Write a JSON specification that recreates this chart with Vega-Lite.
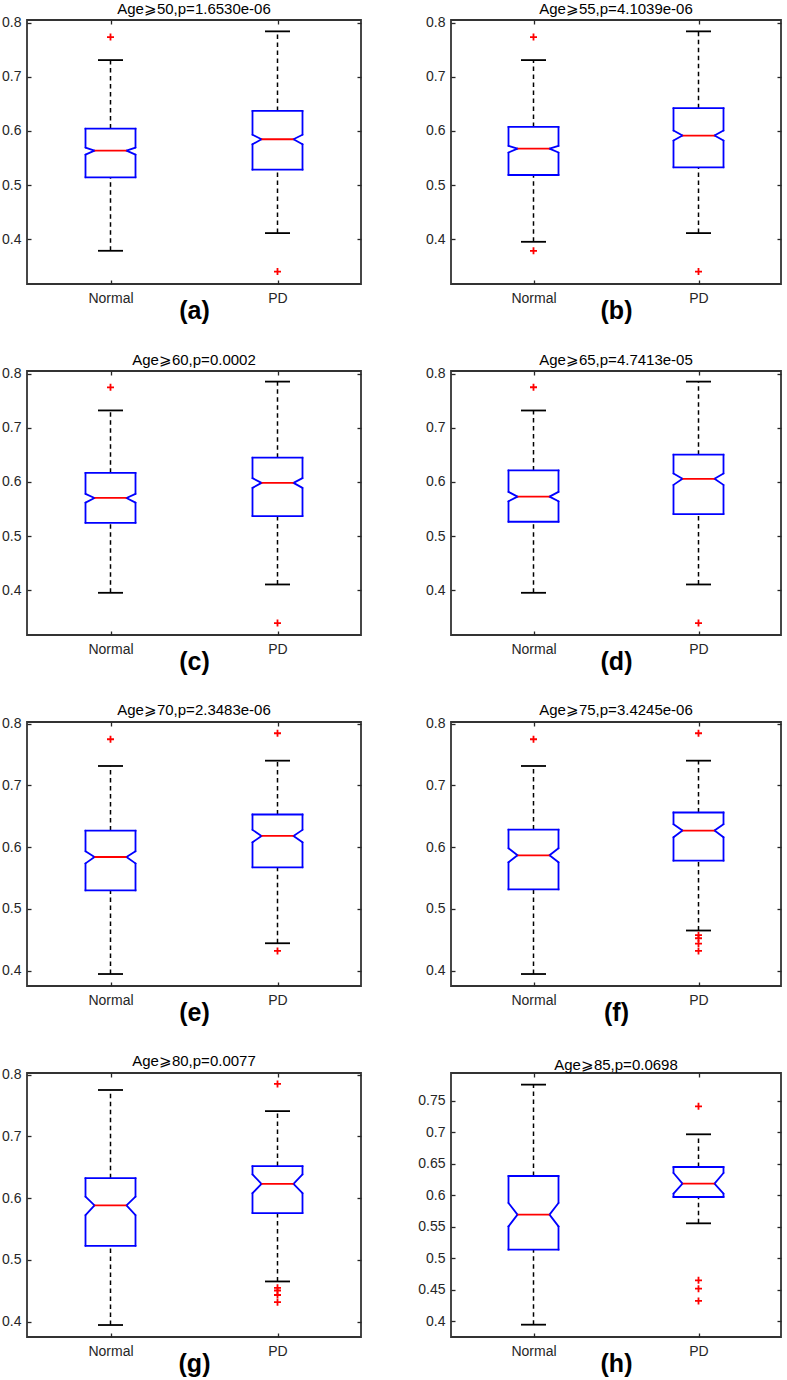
{
"$schema": "https://vega.github.io/schema/vega-lite/v6.json",
"background": "white",
"padding": 0,
"columns": 2,
"bounds": "flush",
"spacing": {"row": 87, "column": 90},
"data": {"name": "boxes"},
"datasets": {
"boxes": [
{"panel":"a","group":"Normal","wlo":0.3784,"q1":0.5142,"nlo":0.5562,"med":0.5636,"nhi":0.5691,"q3":0.6043,"whi":0.7309},
{"panel":"a","group":"PD","wlo":0.4111,"q1":0.5284,"nlo":0.5753,"med":0.5846,"nhi":0.593,"q3":0.637,"whi":0.784},
{"panel":"b","group":"Normal","wlo":0.395,"q1":0.5185,"nlo":0.56,"med":0.5673,"nhi":0.5722,"q3":0.6074,"whi":0.7309},
{"panel":"b","group":"PD","wlo":0.4111,"q1":0.5327,"nlo":0.5821,"med":0.5914,"nhi":0.6006,"q3":0.642,"whi":0.784},
{"panel":"c","group":"Normal","wlo":0.395,"q1":0.5244,"nlo":0.5617,"med":0.5703,"nhi":0.5778,"q3":0.6168,"whi":0.7321},
{"panel":"c","group":"PD","wlo":0.4104,"q1":0.5368,"nlo":0.5889,"med":0.5982,"nhi":0.6069,"q3":0.6447,"whi":0.7854},
{"panel":"d","group":"Normal","wlo":0.395,"q1":0.5263,"nlo":0.5641,"med":0.5728,"nhi":0.5815,"q3":0.6212,"whi":0.732},
{"panel":"d","group":"PD","wlo":0.4104,"q1":0.5406,"nlo":0.5945,"med":0.6057,"nhi":0.6156,"q3":0.6503,"whi":0.7854},
{"panel":"e","group":"Normal","wlo":0.3946,"q1":0.5299,"nlo":0.5737,"med":0.584,"nhi":0.5932,"q3":0.6268,"whi":0.7313},
{"panel":"e","group":"PD","wlo":0.4444,"q1":0.5673,"nlo":0.6078,"med":0.6181,"nhi":0.6279,"q3":0.6528,"whi":0.7399},
{"panel":"f","group":"Normal","wlo":0.3946,"q1":0.5315,"nlo":0.5754,"med":0.5867,"nhi":0.5981,"q3":0.6284,"whi":0.7313},
{"panel":"f","group":"PD","wlo":0.465,"q1":0.5781,"nlo":0.616,"med":0.6268,"nhi":0.6371,"q3":0.656,"whi":0.7399},
{"panel":"g","group":"Normal","wlo":0.3946,"q1":0.5227,"nlo":0.5726,"med":0.5883,"nhi":0.6024,"q3":0.6323,"whi":0.775},
{"panel":"g","group":"PD","wlo":0.4651,"q1":0.5758,"nlo":0.6079,"med":0.6231,"nhi":0.6383,"q3":0.6518,"whi":0.7408},
{"panel":"h","group":"Normal","wlo":0.3942,"q1":0.5135,"nlo":0.5506,"med":0.5692,"nhi":0.5878,"q3":0.6307,"whi":0.776},
{"panel":"h","group":"PD","wlo":0.5554,"q1":0.5973,"nlo":0.6026,"med":0.6185,"nhi":0.6355,"q3":0.645,"whi":0.697}
],
"outliers": [
{"panel":"a","group":"Normal","value":0.7735},
{"panel":"a","group":"PD","value":0.340},
{"panel":"b","group":"Normal","value":0.7735},
{"panel":"b","group":"Normal","value":0.3784},
{"panel":"b","group":"PD","value":0.340},
{"panel":"c","group":"Normal","value":0.7749},
{"panel":"c","group":"PD","value":0.3391},
{"panel":"d","group":"Normal","value":0.775},
{"panel":"d","group":"PD","value":0.339},
{"panel":"e","group":"Normal","value":0.7746},
{"panel":"e","group":"PD","value":0.7843},
{"panel":"e","group":"PD","value":0.4319},
{"panel":"f","group":"Normal","value":0.7746},
{"panel":"f","group":"PD","value":0.7843},
{"panel":"f","group":"PD","value":0.4574},
{"panel":"f","group":"PD","value":0.4525},
{"panel":"f","group":"PD","value":0.4438},
{"panel":"f","group":"PD","value":0.4319},
{"panel":"g","group":"PD","value":0.7848},
{"panel":"g","group":"PD","value":0.4548},
{"panel":"g","group":"PD","value":0.4505},
{"panel":"g","group":"PD","value":0.4432},
{"panel":"g","group":"PD","value":0.4315},
{"panel":"h","group":"PD","value":0.7415},
{"panel":"h","group":"PD","value":0.4647},
{"panel":"h","group":"PD","value":0.4515},
{"panel":"h","group":"PD","value":0.4319}
]
},
"config": {
"font": "Liberation Sans",
"view": {"stroke": "#333333", "strokeWidth": 1.8},
"axis": {"domain": false, "grid": false, "tickSize": -4, "tickColor": "#262626", "tickWidth": 1.3, "labelFont": "Liberation Sans", "labelFontSize": 14, "labelColor": "#262626", "labelPadding": 10, "titleFont": "Liberation Sans", "titleFontSize": 25, "titleFontWeight": "bold", "titleColor": "#000000"},
"axisX": {"labelAngle": 0, "titlePadding": -7, "labelPadding": 11},
"title": {"font": "Liberation Sans", "fontSize": 15, "fontWeight": "normal", "color": "#000000", "offset": -1}
},
"concat": [
{"title":"Age⩾50,p=1.6530e-06","width":334,"height":264,
"transform":[{"filter":"datum.panel == 'a'"}],
"resolve":{"axis":{"x":"independent","y":"independent"}},
"encoding":{"x":{"field":"group","type":"nominal","scale":{"type":"point","padding":0.5,"domain":["Normal","PD"]},"axis":null}},
"layer":[
{"mark":{"type":"rule","color":"#000","strokeWidth":1.5,"strokeDash":[4.5,3.5]},"encoding":{"x":{"field":"group","type":"nominal","scale":{"type":"point","padding":0.5,"domain":["Normal","PD"]},"axis":{"title":"(a)"}},"y":{"field":"q3","type":"quantitative","scale":{"domain":[0.317,0.805],"zero":false,"nice":false},"axis":{"title":null,"values":[0.4,0.5,0.6,0.7,0.8],"format":"~g"}},"y2":{"field":"whi"}}},
{"mark":{"type":"rule","color":"#000","strokeWidth":1.5,"strokeDash":[4.5,3.5]},"encoding":{"x":{"field":"group","type":"nominal","scale":{"type":"point","padding":0.5,"domain":["Normal","PD"]},"axis":{"orient":"top","labels":false,"title":null}},"y":{"field":"wlo","type":"quantitative","scale":{"domain":[0.317,0.805],"zero":false,"nice":false},"axis":{"orient":"right","labels":false,"title":null,"values":[0.4,0.5,0.6,0.7,0.8]}},"y2":{"field":"q1"}}},
{"transform":[{"fold":["wlo","whi"],"as":["k","v"]}],"mark":{"type":"tick","orient":"horizontal","size":25,"thickness":1.8,"color":"#000","opacity":1},"encoding":{"y":{"field":"v","type":"quantitative","scale":{"domain":[0.317,0.805],"zero":false,"nice":false},"axis":null}}},
{"transform":[{"fold":["q1","q3"],"as":["k","v"]}],"mark":{"type":"tick","orient":"horizontal","size":51.8,"thickness":1.8,"color":"#0000ff","opacity":1},"encoding":{"y":{"field":"v","type":"quantitative","scale":{"domain":[0.317,0.805],"zero":false,"nice":false},"axis":null}}},
{"mark":{"type":"rule","color":"#0000ff","strokeWidth":1.8,"strokeCap":"round","xOffset":-25},"encoding":{"y":{"field":"q1","type":"quantitative","scale":{"domain":[0.317,0.805],"zero":false,"nice":false},"axis":null},"y2":{"field":"nlo"}}},
{"mark":{"type":"rule","color":"#0000ff","strokeWidth":1.8,"strokeCap":"round","xOffset":-25,"x2Offset":-16},"encoding":{"x2":{"field":"group"},"y":{"field":"nlo","type":"quantitative","scale":{"domain":[0.317,0.805],"zero":false,"nice":false},"axis":null},"y2":{"field":"med"}}},
{"mark":{"type":"rule","color":"#0000ff","strokeWidth":1.8,"strokeCap":"round","xOffset":-16,"x2Offset":-25},"encoding":{"x2":{"field":"group"},"y":{"field":"med","type":"quantitative","scale":{"domain":[0.317,0.805],"zero":false,"nice":false},"axis":null},"y2":{"field":"nhi"}}},
{"mark":{"type":"rule","color":"#0000ff","strokeWidth":1.8,"strokeCap":"round","xOffset":-25},"encoding":{"y":{"field":"nhi","type":"quantitative","scale":{"domain":[0.317,0.805],"zero":false,"nice":false},"axis":null},"y2":{"field":"q3"}}},
{"mark":{"type":"rule","color":"#0000ff","strokeWidth":1.8,"strokeCap":"round","xOffset":25},"encoding":{"y":{"field":"q1","type":"quantitative","scale":{"domain":[0.317,0.805],"zero":false,"nice":false},"axis":null},"y2":{"field":"nlo"}}},
{"mark":{"type":"rule","color":"#0000ff","strokeWidth":1.8,"strokeCap":"round","xOffset":25,"x2Offset":16},"encoding":{"x2":{"field":"group"},"y":{"field":"nlo","type":"quantitative","scale":{"domain":[0.317,0.805],"zero":false,"nice":false},"axis":null},"y2":{"field":"med"}}},
{"mark":{"type":"rule","color":"#0000ff","strokeWidth":1.8,"strokeCap":"round","xOffset":16,"x2Offset":25},"encoding":{"x2":{"field":"group"},"y":{"field":"med","type":"quantitative","scale":{"domain":[0.317,0.805],"zero":false,"nice":false},"axis":null},"y2":{"field":"nhi"}}},
{"mark":{"type":"rule","color":"#0000ff","strokeWidth":1.8,"strokeCap":"round","xOffset":25},"encoding":{"y":{"field":"nhi","type":"quantitative","scale":{"domain":[0.317,0.805],"zero":false,"nice":false},"axis":null},"y2":{"field":"q3"}}},
{"mark":{"type":"tick","orient":"horizontal","size":32,"thickness":1.8,"color":"#ff0000","opacity":1},"encoding":{"y":{"field":"med","type":"quantitative","scale":{"domain":[0.317,0.805],"zero":false,"nice":false},"axis":null}}},
{"data":{"name":"outliers"},"transform":[{"filter":"datum.panel == 'a'"}],"mark":{"type":"point","shape":"M-1,0H1M0,-1V1","size":49,"color":"#ff0000","filled":false,"strokeWidth":1.8,"opacity":1},"encoding":{"y":{"field":"value","type":"quantitative","scale":{"domain":[0.317,0.805],"zero":false,"nice":false},"axis":null}}}
]},
{"title":"Age⩾55,p=4.1039e-06","width":330,"height":264,
"transform":[{"filter":"datum.panel == 'b'"}],
"resolve":{"axis":{"x":"independent","y":"independent"}},
"encoding":{"x":{"field":"group","type":"nominal","scale":{"type":"point","padding":0.5,"domain":["Normal","PD"]},"axis":null}},
"layer":[
{"mark":{"type":"rule","color":"#000","strokeWidth":1.5,"strokeDash":[4.5,3.5]},"encoding":{"x":{"field":"group","type":"nominal","scale":{"type":"point","padding":0.5,"domain":["Normal","PD"]},"axis":{"title":"(b)"}},"y":{"field":"q3","type":"quantitative","scale":{"domain":[0.317,0.805],"zero":false,"nice":false},"axis":{"title":null,"values":[0.4,0.5,0.6,0.7,0.8],"format":"~g"}},"y2":{"field":"whi"}}},
{"mark":{"type":"rule","color":"#000","strokeWidth":1.5,"strokeDash":[4.5,3.5]},"encoding":{"x":{"field":"group","type":"nominal","scale":{"type":"point","padding":0.5,"domain":["Normal","PD"]},"axis":{"orient":"top","labels":false,"title":null}},"y":{"field":"wlo","type":"quantitative","scale":{"domain":[0.317,0.805],"zero":false,"nice":false},"axis":{"orient":"right","labels":false,"title":null,"values":[0.4,0.5,0.6,0.7,0.8]}},"y2":{"field":"q1"}}},
{"transform":[{"fold":["wlo","whi"],"as":["k","v"]}],"mark":{"type":"tick","orient":"horizontal","size":25,"thickness":1.8,"color":"#000","opacity":1},"encoding":{"y":{"field":"v","type":"quantitative","scale":{"domain":[0.317,0.805],"zero":false,"nice":false},"axis":null}}},
{"transform":[{"fold":["q1","q3"],"as":["k","v"]}],"mark":{"type":"tick","orient":"horizontal","size":51.8,"thickness":1.8,"color":"#0000ff","opacity":1},"encoding":{"y":{"field":"v","type":"quantitative","scale":{"domain":[0.317,0.805],"zero":false,"nice":false},"axis":null}}},
{"mark":{"type":"rule","color":"#0000ff","strokeWidth":1.8,"strokeCap":"round","xOffset":-25},"encoding":{"y":{"field":"q1","type":"quantitative","scale":{"domain":[0.317,0.805],"zero":false,"nice":false},"axis":null},"y2":{"field":"nlo"}}},
{"mark":{"type":"rule","color":"#0000ff","strokeWidth":1.8,"strokeCap":"round","xOffset":-25,"x2Offset":-16},"encoding":{"x2":{"field":"group"},"y":{"field":"nlo","type":"quantitative","scale":{"domain":[0.317,0.805],"zero":false,"nice":false},"axis":null},"y2":{"field":"med"}}},
{"mark":{"type":"rule","color":"#0000ff","strokeWidth":1.8,"strokeCap":"round","xOffset":-16,"x2Offset":-25},"encoding":{"x2":{"field":"group"},"y":{"field":"med","type":"quantitative","scale":{"domain":[0.317,0.805],"zero":false,"nice":false},"axis":null},"y2":{"field":"nhi"}}},
{"mark":{"type":"rule","color":"#0000ff","strokeWidth":1.8,"strokeCap":"round","xOffset":-25},"encoding":{"y":{"field":"nhi","type":"quantitative","scale":{"domain":[0.317,0.805],"zero":false,"nice":false},"axis":null},"y2":{"field":"q3"}}},
{"mark":{"type":"rule","color":"#0000ff","strokeWidth":1.8,"strokeCap":"round","xOffset":25},"encoding":{"y":{"field":"q1","type":"quantitative","scale":{"domain":[0.317,0.805],"zero":false,"nice":false},"axis":null},"y2":{"field":"nlo"}}},
{"mark":{"type":"rule","color":"#0000ff","strokeWidth":1.8,"strokeCap":"round","xOffset":25,"x2Offset":16},"encoding":{"x2":{"field":"group"},"y":{"field":"nlo","type":"quantitative","scale":{"domain":[0.317,0.805],"zero":false,"nice":false},"axis":null},"y2":{"field":"med"}}},
{"mark":{"type":"rule","color":"#0000ff","strokeWidth":1.8,"strokeCap":"round","xOffset":16,"x2Offset":25},"encoding":{"x2":{"field":"group"},"y":{"field":"med","type":"quantitative","scale":{"domain":[0.317,0.805],"zero":false,"nice":false},"axis":null},"y2":{"field":"nhi"}}},
{"mark":{"type":"rule","color":"#0000ff","strokeWidth":1.8,"strokeCap":"round","xOffset":25},"encoding":{"y":{"field":"nhi","type":"quantitative","scale":{"domain":[0.317,0.805],"zero":false,"nice":false},"axis":null},"y2":{"field":"q3"}}},
{"mark":{"type":"tick","orient":"horizontal","size":32,"thickness":1.8,"color":"#ff0000","opacity":1},"encoding":{"y":{"field":"med","type":"quantitative","scale":{"domain":[0.317,0.805],"zero":false,"nice":false},"axis":null}}},
{"data":{"name":"outliers"},"transform":[{"filter":"datum.panel == 'b'"}],"mark":{"type":"point","shape":"M-1,0H1M0,-1V1","size":49,"color":"#ff0000","filled":false,"strokeWidth":1.8,"opacity":1},"encoding":{"y":{"field":"value","type":"quantitative","scale":{"domain":[0.317,0.805],"zero":false,"nice":false},"axis":null}}}
]},
{"title":"Age⩾60,p=0.0002","width":334,"height":264,
"transform":[{"filter":"datum.panel == 'c'"}],
"resolve":{"axis":{"x":"independent","y":"independent"}},
"encoding":{"x":{"field":"group","type":"nominal","scale":{"type":"point","padding":0.5,"domain":["Normal","PD"]},"axis":null}},
"layer":[
{"mark":{"type":"rule","color":"#000","strokeWidth":1.5,"strokeDash":[4.5,3.5]},"encoding":{"x":{"field":"group","type":"nominal","scale":{"type":"point","padding":0.5,"domain":["Normal","PD"]},"axis":{"title":"(c)"}},"y":{"field":"q3","type":"quantitative","scale":{"domain":[0.317,0.805],"zero":false,"nice":false},"axis":{"title":null,"values":[0.4,0.5,0.6,0.7,0.8],"format":"~g"}},"y2":{"field":"whi"}}},
{"mark":{"type":"rule","color":"#000","strokeWidth":1.5,"strokeDash":[4.5,3.5]},"encoding":{"x":{"field":"group","type":"nominal","scale":{"type":"point","padding":0.5,"domain":["Normal","PD"]},"axis":{"orient":"top","labels":false,"title":null}},"y":{"field":"wlo","type":"quantitative","scale":{"domain":[0.317,0.805],"zero":false,"nice":false},"axis":{"orient":"right","labels":false,"title":null,"values":[0.4,0.5,0.6,0.7,0.8]}},"y2":{"field":"q1"}}},
{"transform":[{"fold":["wlo","whi"],"as":["k","v"]}],"mark":{"type":"tick","orient":"horizontal","size":25,"thickness":1.8,"color":"#000","opacity":1},"encoding":{"y":{"field":"v","type":"quantitative","scale":{"domain":[0.317,0.805],"zero":false,"nice":false},"axis":null}}},
{"transform":[{"fold":["q1","q3"],"as":["k","v"]}],"mark":{"type":"tick","orient":"horizontal","size":51.8,"thickness":1.8,"color":"#0000ff","opacity":1},"encoding":{"y":{"field":"v","type":"quantitative","scale":{"domain":[0.317,0.805],"zero":false,"nice":false},"axis":null}}},
{"mark":{"type":"rule","color":"#0000ff","strokeWidth":1.8,"strokeCap":"round","xOffset":-25},"encoding":{"y":{"field":"q1","type":"quantitative","scale":{"domain":[0.317,0.805],"zero":false,"nice":false},"axis":null},"y2":{"field":"nlo"}}},
{"mark":{"type":"rule","color":"#0000ff","strokeWidth":1.8,"strokeCap":"round","xOffset":-25,"x2Offset":-16},"encoding":{"x2":{"field":"group"},"y":{"field":"nlo","type":"quantitative","scale":{"domain":[0.317,0.805],"zero":false,"nice":false},"axis":null},"y2":{"field":"med"}}},
{"mark":{"type":"rule","color":"#0000ff","strokeWidth":1.8,"strokeCap":"round","xOffset":-16,"x2Offset":-25},"encoding":{"x2":{"field":"group"},"y":{"field":"med","type":"quantitative","scale":{"domain":[0.317,0.805],"zero":false,"nice":false},"axis":null},"y2":{"field":"nhi"}}},
{"mark":{"type":"rule","color":"#0000ff","strokeWidth":1.8,"strokeCap":"round","xOffset":-25},"encoding":{"y":{"field":"nhi","type":"quantitative","scale":{"domain":[0.317,0.805],"zero":false,"nice":false},"axis":null},"y2":{"field":"q3"}}},
{"mark":{"type":"rule","color":"#0000ff","strokeWidth":1.8,"strokeCap":"round","xOffset":25},"encoding":{"y":{"field":"q1","type":"quantitative","scale":{"domain":[0.317,0.805],"zero":false,"nice":false},"axis":null},"y2":{"field":"nlo"}}},
{"mark":{"type":"rule","color":"#0000ff","strokeWidth":1.8,"strokeCap":"round","xOffset":25,"x2Offset":16},"encoding":{"x2":{"field":"group"},"y":{"field":"nlo","type":"quantitative","scale":{"domain":[0.317,0.805],"zero":false,"nice":false},"axis":null},"y2":{"field":"med"}}},
{"mark":{"type":"rule","color":"#0000ff","strokeWidth":1.8,"strokeCap":"round","xOffset":16,"x2Offset":25},"encoding":{"x2":{"field":"group"},"y":{"field":"med","type":"quantitative","scale":{"domain":[0.317,0.805],"zero":false,"nice":false},"axis":null},"y2":{"field":"nhi"}}},
{"mark":{"type":"rule","color":"#0000ff","strokeWidth":1.8,"strokeCap":"round","xOffset":25},"encoding":{"y":{"field":"nhi","type":"quantitative","scale":{"domain":[0.317,0.805],"zero":false,"nice":false},"axis":null},"y2":{"field":"q3"}}},
{"mark":{"type":"tick","orient":"horizontal","size":32,"thickness":1.8,"color":"#ff0000","opacity":1},"encoding":{"y":{"field":"med","type":"quantitative","scale":{"domain":[0.317,0.805],"zero":false,"nice":false},"axis":null}}},
{"data":{"name":"outliers"},"transform":[{"filter":"datum.panel == 'c'"}],"mark":{"type":"point","shape":"M-1,0H1M0,-1V1","size":49,"color":"#ff0000","filled":false,"strokeWidth":1.8,"opacity":1},"encoding":{"y":{"field":"value","type":"quantitative","scale":{"domain":[0.317,0.805],"zero":false,"nice":false},"axis":null}}}
]},
{"title":"Age⩾65,p=4.7413e-05","width":330,"height":264,
"transform":[{"filter":"datum.panel == 'd'"}],
"resolve":{"axis":{"x":"independent","y":"independent"}},
"encoding":{"x":{"field":"group","type":"nominal","scale":{"type":"point","padding":0.5,"domain":["Normal","PD"]},"axis":null}},
"layer":[
{"mark":{"type":"rule","color":"#000","strokeWidth":1.5,"strokeDash":[4.5,3.5]},"encoding":{"x":{"field":"group","type":"nominal","scale":{"type":"point","padding":0.5,"domain":["Normal","PD"]},"axis":{"title":"(d)"}},"y":{"field":"q3","type":"quantitative","scale":{"domain":[0.317,0.805],"zero":false,"nice":false},"axis":{"title":null,"values":[0.4,0.5,0.6,0.7,0.8],"format":"~g"}},"y2":{"field":"whi"}}},
{"mark":{"type":"rule","color":"#000","strokeWidth":1.5,"strokeDash":[4.5,3.5]},"encoding":{"x":{"field":"group","type":"nominal","scale":{"type":"point","padding":0.5,"domain":["Normal","PD"]},"axis":{"orient":"top","labels":false,"title":null}},"y":{"field":"wlo","type":"quantitative","scale":{"domain":[0.317,0.805],"zero":false,"nice":false},"axis":{"orient":"right","labels":false,"title":null,"values":[0.4,0.5,0.6,0.7,0.8]}},"y2":{"field":"q1"}}},
{"transform":[{"fold":["wlo","whi"],"as":["k","v"]}],"mark":{"type":"tick","orient":"horizontal","size":25,"thickness":1.8,"color":"#000","opacity":1},"encoding":{"y":{"field":"v","type":"quantitative","scale":{"domain":[0.317,0.805],"zero":false,"nice":false},"axis":null}}},
{"transform":[{"fold":["q1","q3"],"as":["k","v"]}],"mark":{"type":"tick","orient":"horizontal","size":51.8,"thickness":1.8,"color":"#0000ff","opacity":1},"encoding":{"y":{"field":"v","type":"quantitative","scale":{"domain":[0.317,0.805],"zero":false,"nice":false},"axis":null}}},
{"mark":{"type":"rule","color":"#0000ff","strokeWidth":1.8,"strokeCap":"round","xOffset":-25},"encoding":{"y":{"field":"q1","type":"quantitative","scale":{"domain":[0.317,0.805],"zero":false,"nice":false},"axis":null},"y2":{"field":"nlo"}}},
{"mark":{"type":"rule","color":"#0000ff","strokeWidth":1.8,"strokeCap":"round","xOffset":-25,"x2Offset":-16},"encoding":{"x2":{"field":"group"},"y":{"field":"nlo","type":"quantitative","scale":{"domain":[0.317,0.805],"zero":false,"nice":false},"axis":null},"y2":{"field":"med"}}},
{"mark":{"type":"rule","color":"#0000ff","strokeWidth":1.8,"strokeCap":"round","xOffset":-16,"x2Offset":-25},"encoding":{"x2":{"field":"group"},"y":{"field":"med","type":"quantitative","scale":{"domain":[0.317,0.805],"zero":false,"nice":false},"axis":null},"y2":{"field":"nhi"}}},
{"mark":{"type":"rule","color":"#0000ff","strokeWidth":1.8,"strokeCap":"round","xOffset":-25},"encoding":{"y":{"field":"nhi","type":"quantitative","scale":{"domain":[0.317,0.805],"zero":false,"nice":false},"axis":null},"y2":{"field":"q3"}}},
{"mark":{"type":"rule","color":"#0000ff","strokeWidth":1.8,"strokeCap":"round","xOffset":25},"encoding":{"y":{"field":"q1","type":"quantitative","scale":{"domain":[0.317,0.805],"zero":false,"nice":false},"axis":null},"y2":{"field":"nlo"}}},
{"mark":{"type":"rule","color":"#0000ff","strokeWidth":1.8,"strokeCap":"round","xOffset":25,"x2Offset":16},"encoding":{"x2":{"field":"group"},"y":{"field":"nlo","type":"quantitative","scale":{"domain":[0.317,0.805],"zero":false,"nice":false},"axis":null},"y2":{"field":"med"}}},
{"mark":{"type":"rule","color":"#0000ff","strokeWidth":1.8,"strokeCap":"round","xOffset":16,"x2Offset":25},"encoding":{"x2":{"field":"group"},"y":{"field":"med","type":"quantitative","scale":{"domain":[0.317,0.805],"zero":false,"nice":false},"axis":null},"y2":{"field":"nhi"}}},
{"mark":{"type":"rule","color":"#0000ff","strokeWidth":1.8,"strokeCap":"round","xOffset":25},"encoding":{"y":{"field":"nhi","type":"quantitative","scale":{"domain":[0.317,0.805],"zero":false,"nice":false},"axis":null},"y2":{"field":"q3"}}},
{"mark":{"type":"tick","orient":"horizontal","size":32,"thickness":1.8,"color":"#ff0000","opacity":1},"encoding":{"y":{"field":"med","type":"quantitative","scale":{"domain":[0.317,0.805],"zero":false,"nice":false},"axis":null}}},
{"data":{"name":"outliers"},"transform":[{"filter":"datum.panel == 'd'"}],"mark":{"type":"point","shape":"M-1,0H1M0,-1V1","size":49,"color":"#ff0000","filled":false,"strokeWidth":1.8,"opacity":1},"encoding":{"y":{"field":"value","type":"quantitative","scale":{"domain":[0.317,0.805],"zero":false,"nice":false},"axis":null}}}
]},
{"title":"Age⩾70,p=2.3483e-06","width":334,"height":264,
"transform":[{"filter":"datum.panel == 'e'"}],
"resolve":{"axis":{"x":"independent","y":"independent"}},
"encoding":{"x":{"field":"group","type":"nominal","scale":{"type":"point","padding":0.5,"domain":["Normal","PD"]},"axis":null}},
"layer":[
{"mark":{"type":"rule","color":"#000","strokeWidth":1.5,"strokeDash":[4.5,3.5]},"encoding":{"x":{"field":"group","type":"nominal","scale":{"type":"point","padding":0.5,"domain":["Normal","PD"]},"axis":{"title":"(e)"}},"y":{"field":"q3","type":"quantitative","scale":{"domain":[0.3752,0.8025],"zero":false,"nice":false},"axis":{"title":null,"values":[0.4,0.5,0.6,0.7,0.8],"format":"~g"}},"y2":{"field":"whi"}}},
{"mark":{"type":"rule","color":"#000","strokeWidth":1.5,"strokeDash":[4.5,3.5]},"encoding":{"x":{"field":"group","type":"nominal","scale":{"type":"point","padding":0.5,"domain":["Normal","PD"]},"axis":{"orient":"top","labels":false,"title":null}},"y":{"field":"wlo","type":"quantitative","scale":{"domain":[0.3752,0.8025],"zero":false,"nice":false},"axis":{"orient":"right","labels":false,"title":null,"values":[0.4,0.5,0.6,0.7,0.8]}},"y2":{"field":"q1"}}},
{"transform":[{"fold":["wlo","whi"],"as":["k","v"]}],"mark":{"type":"tick","orient":"horizontal","size":25,"thickness":1.8,"color":"#000","opacity":1},"encoding":{"y":{"field":"v","type":"quantitative","scale":{"domain":[0.3752,0.8025],"zero":false,"nice":false},"axis":null}}},
{"transform":[{"fold":["q1","q3"],"as":["k","v"]}],"mark":{"type":"tick","orient":"horizontal","size":51.8,"thickness":1.8,"color":"#0000ff","opacity":1},"encoding":{"y":{"field":"v","type":"quantitative","scale":{"domain":[0.3752,0.8025],"zero":false,"nice":false},"axis":null}}},
{"mark":{"type":"rule","color":"#0000ff","strokeWidth":1.8,"strokeCap":"round","xOffset":-25},"encoding":{"y":{"field":"q1","type":"quantitative","scale":{"domain":[0.3752,0.8025],"zero":false,"nice":false},"axis":null},"y2":{"field":"nlo"}}},
{"mark":{"type":"rule","color":"#0000ff","strokeWidth":1.8,"strokeCap":"round","xOffset":-25,"x2Offset":-16},"encoding":{"x2":{"field":"group"},"y":{"field":"nlo","type":"quantitative","scale":{"domain":[0.3752,0.8025],"zero":false,"nice":false},"axis":null},"y2":{"field":"med"}}},
{"mark":{"type":"rule","color":"#0000ff","strokeWidth":1.8,"strokeCap":"round","xOffset":-16,"x2Offset":-25},"encoding":{"x2":{"field":"group"},"y":{"field":"med","type":"quantitative","scale":{"domain":[0.3752,0.8025],"zero":false,"nice":false},"axis":null},"y2":{"field":"nhi"}}},
{"mark":{"type":"rule","color":"#0000ff","strokeWidth":1.8,"strokeCap":"round","xOffset":-25},"encoding":{"y":{"field":"nhi","type":"quantitative","scale":{"domain":[0.3752,0.8025],"zero":false,"nice":false},"axis":null},"y2":{"field":"q3"}}},
{"mark":{"type":"rule","color":"#0000ff","strokeWidth":1.8,"strokeCap":"round","xOffset":25},"encoding":{"y":{"field":"q1","type":"quantitative","scale":{"domain":[0.3752,0.8025],"zero":false,"nice":false},"axis":null},"y2":{"field":"nlo"}}},
{"mark":{"type":"rule","color":"#0000ff","strokeWidth":1.8,"strokeCap":"round","xOffset":25,"x2Offset":16},"encoding":{"x2":{"field":"group"},"y":{"field":"nlo","type":"quantitative","scale":{"domain":[0.3752,0.8025],"zero":false,"nice":false},"axis":null},"y2":{"field":"med"}}},
{"mark":{"type":"rule","color":"#0000ff","strokeWidth":1.8,"strokeCap":"round","xOffset":16,"x2Offset":25},"encoding":{"x2":{"field":"group"},"y":{"field":"med","type":"quantitative","scale":{"domain":[0.3752,0.8025],"zero":false,"nice":false},"axis":null},"y2":{"field":"nhi"}}},
{"mark":{"type":"rule","color":"#0000ff","strokeWidth":1.8,"strokeCap":"round","xOffset":25},"encoding":{"y":{"field":"nhi","type":"quantitative","scale":{"domain":[0.3752,0.8025],"zero":false,"nice":false},"axis":null},"y2":{"field":"q3"}}},
{"mark":{"type":"tick","orient":"horizontal","size":32,"thickness":1.8,"color":"#ff0000","opacity":1},"encoding":{"y":{"field":"med","type":"quantitative","scale":{"domain":[0.3752,0.8025],"zero":false,"nice":false},"axis":null}}},
{"data":{"name":"outliers"},"transform":[{"filter":"datum.panel == 'e'"}],"mark":{"type":"point","shape":"M-1,0H1M0,-1V1","size":49,"color":"#ff0000","filled":false,"strokeWidth":1.8,"opacity":1},"encoding":{"y":{"field":"value","type":"quantitative","scale":{"domain":[0.3752,0.8025],"zero":false,"nice":false},"axis":null}}}
]},
{"title":"Age⩾75,p=3.4245e-06","width":330,"height":264,
"transform":[{"filter":"datum.panel == 'f'"}],
"resolve":{"axis":{"x":"independent","y":"independent"}},
"encoding":{"x":{"field":"group","type":"nominal","scale":{"type":"point","padding":0.5,"domain":["Normal","PD"]},"axis":null}},
"layer":[
{"mark":{"type":"rule","color":"#000","strokeWidth":1.5,"strokeDash":[4.5,3.5]},"encoding":{"x":{"field":"group","type":"nominal","scale":{"type":"point","padding":0.5,"domain":["Normal","PD"]},"axis":{"title":"(f)"}},"y":{"field":"q3","type":"quantitative","scale":{"domain":[0.3752,0.8025],"zero":false,"nice":false},"axis":{"title":null,"values":[0.4,0.5,0.6,0.7,0.8],"format":"~g"}},"y2":{"field":"whi"}}},
{"mark":{"type":"rule","color":"#000","strokeWidth":1.5,"strokeDash":[4.5,3.5]},"encoding":{"x":{"field":"group","type":"nominal","scale":{"type":"point","padding":0.5,"domain":["Normal","PD"]},"axis":{"orient":"top","labels":false,"title":null}},"y":{"field":"wlo","type":"quantitative","scale":{"domain":[0.3752,0.8025],"zero":false,"nice":false},"axis":{"orient":"right","labels":false,"title":null,"values":[0.4,0.5,0.6,0.7,0.8]}},"y2":{"field":"q1"}}},
{"transform":[{"fold":["wlo","whi"],"as":["k","v"]}],"mark":{"type":"tick","orient":"horizontal","size":25,"thickness":1.8,"color":"#000","opacity":1},"encoding":{"y":{"field":"v","type":"quantitative","scale":{"domain":[0.3752,0.8025],"zero":false,"nice":false},"axis":null}}},
{"transform":[{"fold":["q1","q3"],"as":["k","v"]}],"mark":{"type":"tick","orient":"horizontal","size":51.8,"thickness":1.8,"color":"#0000ff","opacity":1},"encoding":{"y":{"field":"v","type":"quantitative","scale":{"domain":[0.3752,0.8025],"zero":false,"nice":false},"axis":null}}},
{"mark":{"type":"rule","color":"#0000ff","strokeWidth":1.8,"strokeCap":"round","xOffset":-25},"encoding":{"y":{"field":"q1","type":"quantitative","scale":{"domain":[0.3752,0.8025],"zero":false,"nice":false},"axis":null},"y2":{"field":"nlo"}}},
{"mark":{"type":"rule","color":"#0000ff","strokeWidth":1.8,"strokeCap":"round","xOffset":-25,"x2Offset":-16},"encoding":{"x2":{"field":"group"},"y":{"field":"nlo","type":"quantitative","scale":{"domain":[0.3752,0.8025],"zero":false,"nice":false},"axis":null},"y2":{"field":"med"}}},
{"mark":{"type":"rule","color":"#0000ff","strokeWidth":1.8,"strokeCap":"round","xOffset":-16,"x2Offset":-25},"encoding":{"x2":{"field":"group"},"y":{"field":"med","type":"quantitative","scale":{"domain":[0.3752,0.8025],"zero":false,"nice":false},"axis":null},"y2":{"field":"nhi"}}},
{"mark":{"type":"rule","color":"#0000ff","strokeWidth":1.8,"strokeCap":"round","xOffset":-25},"encoding":{"y":{"field":"nhi","type":"quantitative","scale":{"domain":[0.3752,0.8025],"zero":false,"nice":false},"axis":null},"y2":{"field":"q3"}}},
{"mark":{"type":"rule","color":"#0000ff","strokeWidth":1.8,"strokeCap":"round","xOffset":25},"encoding":{"y":{"field":"q1","type":"quantitative","scale":{"domain":[0.3752,0.8025],"zero":false,"nice":false},"axis":null},"y2":{"field":"nlo"}}},
{"mark":{"type":"rule","color":"#0000ff","strokeWidth":1.8,"strokeCap":"round","xOffset":25,"x2Offset":16},"encoding":{"x2":{"field":"group"},"y":{"field":"nlo","type":"quantitative","scale":{"domain":[0.3752,0.8025],"zero":false,"nice":false},"axis":null},"y2":{"field":"med"}}},
{"mark":{"type":"rule","color":"#0000ff","strokeWidth":1.8,"strokeCap":"round","xOffset":16,"x2Offset":25},"encoding":{"x2":{"field":"group"},"y":{"field":"med","type":"quantitative","scale":{"domain":[0.3752,0.8025],"zero":false,"nice":false},"axis":null},"y2":{"field":"nhi"}}},
{"mark":{"type":"rule","color":"#0000ff","strokeWidth":1.8,"strokeCap":"round","xOffset":25},"encoding":{"y":{"field":"nhi","type":"quantitative","scale":{"domain":[0.3752,0.8025],"zero":false,"nice":false},"axis":null},"y2":{"field":"q3"}}},
{"mark":{"type":"tick","orient":"horizontal","size":32,"thickness":1.8,"color":"#ff0000","opacity":1},"encoding":{"y":{"field":"med","type":"quantitative","scale":{"domain":[0.3752,0.8025],"zero":false,"nice":false},"axis":null}}},
{"data":{"name":"outliers"},"transform":[{"filter":"datum.panel == 'f'"}],"mark":{"type":"point","shape":"M-1,0H1M0,-1V1","size":49,"color":"#ff0000","filled":false,"strokeWidth":1.8,"opacity":1},"encoding":{"y":{"field":"value","type":"quantitative","scale":{"domain":[0.3752,0.8025],"zero":false,"nice":false},"axis":null}}}
]},
{"title":"Age⩾80,p=0.0077","width":334,"height":264,
"transform":[{"filter":"datum.panel == 'g'"}],
"resolve":{"axis":{"x":"independent","y":"independent"}},
"encoding":{"x":{"field":"group","type":"nominal","scale":{"type":"point","padding":0.5,"domain":["Normal","PD"]},"axis":null}},
"layer":[
{"mark":{"type":"rule","color":"#000","strokeWidth":1.5,"strokeDash":[4.5,3.5]},"encoding":{"x":{"field":"group","type":"nominal","scale":{"type":"point","padding":0.5,"domain":["Normal","PD"]},"axis":{"title":"(g)"}},"y":{"field":"q3","type":"quantitative","scale":{"domain":[0.3752,0.8025],"zero":false,"nice":false},"axis":{"title":null,"values":[0.4,0.5,0.6,0.7,0.8],"format":"~g"}},"y2":{"field":"whi"}}},
{"mark":{"type":"rule","color":"#000","strokeWidth":1.5,"strokeDash":[4.5,3.5]},"encoding":{"x":{"field":"group","type":"nominal","scale":{"type":"point","padding":0.5,"domain":["Normal","PD"]},"axis":{"orient":"top","labels":false,"title":null}},"y":{"field":"wlo","type":"quantitative","scale":{"domain":[0.3752,0.8025],"zero":false,"nice":false},"axis":{"orient":"right","labels":false,"title":null,"values":[0.4,0.5,0.6,0.7,0.8]}},"y2":{"field":"q1"}}},
{"transform":[{"fold":["wlo","whi"],"as":["k","v"]}],"mark":{"type":"tick","orient":"horizontal","size":25,"thickness":1.8,"color":"#000","opacity":1},"encoding":{"y":{"field":"v","type":"quantitative","scale":{"domain":[0.3752,0.8025],"zero":false,"nice":false},"axis":null}}},
{"transform":[{"fold":["q1","q3"],"as":["k","v"]}],"mark":{"type":"tick","orient":"horizontal","size":51.8,"thickness":1.8,"color":"#0000ff","opacity":1},"encoding":{"y":{"field":"v","type":"quantitative","scale":{"domain":[0.3752,0.8025],"zero":false,"nice":false},"axis":null}}},
{"mark":{"type":"rule","color":"#0000ff","strokeWidth":1.8,"strokeCap":"round","xOffset":-25},"encoding":{"y":{"field":"q1","type":"quantitative","scale":{"domain":[0.3752,0.8025],"zero":false,"nice":false},"axis":null},"y2":{"field":"nlo"}}},
{"mark":{"type":"rule","color":"#0000ff","strokeWidth":1.8,"strokeCap":"round","xOffset":-25,"x2Offset":-16},"encoding":{"x2":{"field":"group"},"y":{"field":"nlo","type":"quantitative","scale":{"domain":[0.3752,0.8025],"zero":false,"nice":false},"axis":null},"y2":{"field":"med"}}},
{"mark":{"type":"rule","color":"#0000ff","strokeWidth":1.8,"strokeCap":"round","xOffset":-16,"x2Offset":-25},"encoding":{"x2":{"field":"group"},"y":{"field":"med","type":"quantitative","scale":{"domain":[0.3752,0.8025],"zero":false,"nice":false},"axis":null},"y2":{"field":"nhi"}}},
{"mark":{"type":"rule","color":"#0000ff","strokeWidth":1.8,"strokeCap":"round","xOffset":-25},"encoding":{"y":{"field":"nhi","type":"quantitative","scale":{"domain":[0.3752,0.8025],"zero":false,"nice":false},"axis":null},"y2":{"field":"q3"}}},
{"mark":{"type":"rule","color":"#0000ff","strokeWidth":1.8,"strokeCap":"round","xOffset":25},"encoding":{"y":{"field":"q1","type":"quantitative","scale":{"domain":[0.3752,0.8025],"zero":false,"nice":false},"axis":null},"y2":{"field":"nlo"}}},
{"mark":{"type":"rule","color":"#0000ff","strokeWidth":1.8,"strokeCap":"round","xOffset":25,"x2Offset":16},"encoding":{"x2":{"field":"group"},"y":{"field":"nlo","type":"quantitative","scale":{"domain":[0.3752,0.8025],"zero":false,"nice":false},"axis":null},"y2":{"field":"med"}}},
{"mark":{"type":"rule","color":"#0000ff","strokeWidth":1.8,"strokeCap":"round","xOffset":16,"x2Offset":25},"encoding":{"x2":{"field":"group"},"y":{"field":"med","type":"quantitative","scale":{"domain":[0.3752,0.8025],"zero":false,"nice":false},"axis":null},"y2":{"field":"nhi"}}},
{"mark":{"type":"rule","color":"#0000ff","strokeWidth":1.8,"strokeCap":"round","xOffset":25},"encoding":{"y":{"field":"nhi","type":"quantitative","scale":{"domain":[0.3752,0.8025],"zero":false,"nice":false},"axis":null},"y2":{"field":"q3"}}},
{"mark":{"type":"tick","orient":"horizontal","size":32,"thickness":1.8,"color":"#ff0000","opacity":1},"encoding":{"y":{"field":"med","type":"quantitative","scale":{"domain":[0.3752,0.8025],"zero":false,"nice":false},"axis":null}}},
{"data":{"name":"outliers"},"transform":[{"filter":"datum.panel == 'g'"}],"mark":{"type":"point","shape":"M-1,0H1M0,-1V1","size":49,"color":"#ff0000","filled":false,"strokeWidth":1.8,"opacity":1},"encoding":{"y":{"field":"value","type":"quantitative","scale":{"domain":[0.3752,0.8025],"zero":false,"nice":false},"axis":null}}}
]},
{"title":"Age⩾85,p=0.0698","width":330,"height":264,
"transform":[{"filter":"datum.panel == 'h'"}],
"resolve":{"axis":{"x":"independent","y":"independent"}},
"encoding":{"x":{"field":"group","type":"nominal","scale":{"type":"point","padding":0.5,"domain":["Normal","PD"]},"axis":null}},
"layer":[
{"mark":{"type":"rule","color":"#000","strokeWidth":1.5,"strokeDash":[4.5,3.5]},"encoding":{"x":{"field":"group","type":"nominal","scale":{"type":"point","padding":0.5,"domain":["Normal","PD"]},"axis":{"title":"(h)"}},"y":{"field":"q3","type":"quantitative","scale":{"domain":[0.3746,0.7945],"zero":false,"nice":false},"axis":{"title":null,"values":[0.4,0.45,0.5,0.55,0.6,0.65,0.7,0.75],"format":"~g"}},"y2":{"field":"whi"}}},
{"mark":{"type":"rule","color":"#000","strokeWidth":1.5,"strokeDash":[4.5,3.5]},"encoding":{"x":{"field":"group","type":"nominal","scale":{"type":"point","padding":0.5,"domain":["Normal","PD"]},"axis":{"orient":"top","labels":false,"title":null}},"y":{"field":"wlo","type":"quantitative","scale":{"domain":[0.3746,0.7945],"zero":false,"nice":false},"axis":{"orient":"right","labels":false,"title":null,"values":[0.4,0.45,0.5,0.55,0.6,0.65,0.7,0.75]}},"y2":{"field":"q1"}}},
{"transform":[{"fold":["wlo","whi"],"as":["k","v"]}],"mark":{"type":"tick","orient":"horizontal","size":25,"thickness":1.8,"color":"#000","opacity":1},"encoding":{"y":{"field":"v","type":"quantitative","scale":{"domain":[0.3746,0.7945],"zero":false,"nice":false},"axis":null}}},
{"transform":[{"fold":["q1","q3"],"as":["k","v"]}],"mark":{"type":"tick","orient":"horizontal","size":51.8,"thickness":1.8,"color":"#0000ff","opacity":1},"encoding":{"y":{"field":"v","type":"quantitative","scale":{"domain":[0.3746,0.7945],"zero":false,"nice":false},"axis":null}}},
{"mark":{"type":"rule","color":"#0000ff","strokeWidth":1.8,"strokeCap":"round","xOffset":-25},"encoding":{"y":{"field":"q1","type":"quantitative","scale":{"domain":[0.3746,0.7945],"zero":false,"nice":false},"axis":null},"y2":{"field":"nlo"}}},
{"mark":{"type":"rule","color":"#0000ff","strokeWidth":1.8,"strokeCap":"round","xOffset":-25,"x2Offset":-16},"encoding":{"x2":{"field":"group"},"y":{"field":"nlo","type":"quantitative","scale":{"domain":[0.3746,0.7945],"zero":false,"nice":false},"axis":null},"y2":{"field":"med"}}},
{"mark":{"type":"rule","color":"#0000ff","strokeWidth":1.8,"strokeCap":"round","xOffset":-16,"x2Offset":-25},"encoding":{"x2":{"field":"group"},"y":{"field":"med","type":"quantitative","scale":{"domain":[0.3746,0.7945],"zero":false,"nice":false},"axis":null},"y2":{"field":"nhi"}}},
{"mark":{"type":"rule","color":"#0000ff","strokeWidth":1.8,"strokeCap":"round","xOffset":-25},"encoding":{"y":{"field":"nhi","type":"quantitative","scale":{"domain":[0.3746,0.7945],"zero":false,"nice":false},"axis":null},"y2":{"field":"q3"}}},
{"mark":{"type":"rule","color":"#0000ff","strokeWidth":1.8,"strokeCap":"round","xOffset":25},"encoding":{"y":{"field":"q1","type":"quantitative","scale":{"domain":[0.3746,0.7945],"zero":false,"nice":false},"axis":null},"y2":{"field":"nlo"}}},
{"mark":{"type":"rule","color":"#0000ff","strokeWidth":1.8,"strokeCap":"round","xOffset":25,"x2Offset":16},"encoding":{"x2":{"field":"group"},"y":{"field":"nlo","type":"quantitative","scale":{"domain":[0.3746,0.7945],"zero":false,"nice":false},"axis":null},"y2":{"field":"med"}}},
{"mark":{"type":"rule","color":"#0000ff","strokeWidth":1.8,"strokeCap":"round","xOffset":16,"x2Offset":25},"encoding":{"x2":{"field":"group"},"y":{"field":"med","type":"quantitative","scale":{"domain":[0.3746,0.7945],"zero":false,"nice":false},"axis":null},"y2":{"field":"nhi"}}},
{"mark":{"type":"rule","color":"#0000ff","strokeWidth":1.8,"strokeCap":"round","xOffset":25},"encoding":{"y":{"field":"nhi","type":"quantitative","scale":{"domain":[0.3746,0.7945],"zero":false,"nice":false},"axis":null},"y2":{"field":"q3"}}},
{"mark":{"type":"tick","orient":"horizontal","size":32,"thickness":1.8,"color":"#ff0000","opacity":1},"encoding":{"y":{"field":"med","type":"quantitative","scale":{"domain":[0.3746,0.7945],"zero":false,"nice":false},"axis":null}}},
{"data":{"name":"outliers"},"transform":[{"filter":"datum.panel == 'h'"}],"mark":{"type":"point","shape":"M-1,0H1M0,-1V1","size":49,"color":"#ff0000","filled":false,"strokeWidth":1.8,"opacity":1},"encoding":{"y":{"field":"value","type":"quantitative","scale":{"domain":[0.3746,0.7945],"zero":false,"nice":false},"axis":null}}}
]}
]
}
